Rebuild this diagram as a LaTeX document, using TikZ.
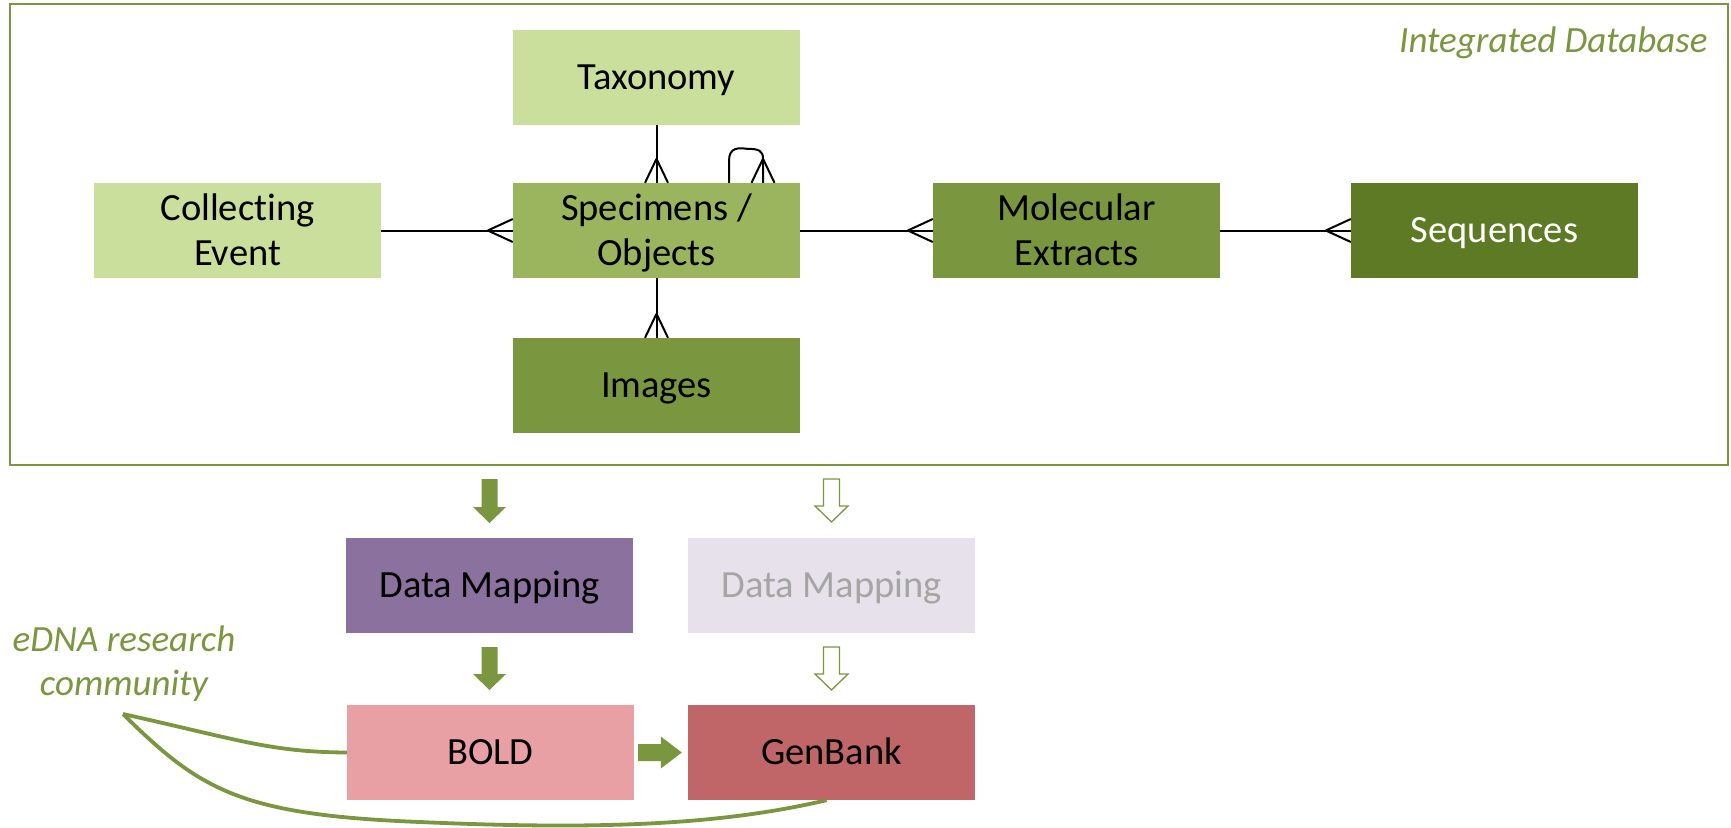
\documentclass[tikz,border=0pt]{standalone}
\usepackage{fontspec}
\setmainfont{Carlito}[Ligatures=NoCommon]
\usetikzlibrary{calc,arrows.meta}
\definecolor{gLight}{HTML}{CADF9C}
\definecolor{gMid}{HTML}{9BB55F}
\definecolor{gDark}{HTML}{7A963E}
\definecolor{gDeep}{HTML}{5E7A25}
\definecolor{pDM}{HTML}{8B719D}
\definecolor{pDMl}{HTML}{E6E1EA}
\definecolor{tGrey}{HTML}{A5A5A5}
\definecolor{rBold}{HTML}{E8A0A4}
\definecolor{rGen}{HTML}{C06668}
\definecolor{lineG}{HTML}{7A963E}
\newcommand\crowft[5]{\draw[erline] ($(#1)+(#2,#3)$) -- ($(#1)+(#4,#5)$) ($(#1)+(#2,#3)$) -- ($(#1)-(#4,#5)$);}
\newcommand\blkdown[4]{% x, ytop, ytip, style
  \path[#4] (#1-8,#2) -- (#1-8,#3-16) -- (#1-16.5,#3-16) -- (#1,#3) -- (#1+16.5,#3-16) -- (#1+8,#3-16) -- (#1+8,#2) -- cycle;}
\newcommand\bx[1]{\raisebox{-3pt}[\height][\depth]{\begin{tabular}{@{}c@{}}#1\end{tabular}}}
\begin{document}
\begin{tikzpicture}[x=1pt,y=-1pt,
  box/.style={rectangle, minimum width=287pt, minimum height=95pt, inner sep=0pt, align=center,
    font=\fontsize{38.5}{45}\selectfont, text=black},
  erline/.style={draw=black, line width=2pt},
  solidarr/.style={fill=gDark},
  openarr/.style={draw=gDark, fill=white, line width=1.3pt},
  greenline/.style={draw=lineG, line width=3.8pt}]
\useasboundingbox (0,0) rectangle (1731,827);
\draw[draw=gDark, line width=1.7pt] (10,4) rectangle (1728,465);
\node[anchor=base east, text=gDark, font=\fontsize{37}{45}\selectfont\itshape] (title) at (1711,52) {Integrated Database};

\node[box, fill=gLight] (tax) at (656.5,77) {\bx{Taxonomy}};
\node[box, fill=gLight] (coll) at (237.5,230.5) {\bx{Collecting\\Event}};
\node[box, fill=gMid] (spec) at (656.5,230.5) {\bx{Specimens /\\Objects}};
\node[box, fill=gDark] (mol) at (1076.5,230.5) {\bx{Molecular\\Extracts}};
\node[box, fill=gDeep, text=white] (seq) at (1494.5,230.5) {\bx{Sequences}};
\node[box, fill=gDark] (img) at (656.5,385.5) {\bx{Images}};

\draw[erline] (tax.south) -- (spec.north);
\crowft{spec.north}{0}{-24}{11.5}{0}
\draw[erline] (coll.east) -- (spec.west);
\crowft{spec.west}{-25}{0}{0}{11.5}
\draw[erline] (spec.east) -- (mol.west);
\crowft{mol.west}{-25}{0}{0}{11.5}
\draw[erline] (mol.east) -- (seq.west);
\crowft{seq.west}{-25}{0}{0}{11.5}
\draw[erline] (spec.south) -- (img.north);
\crowft{img.north}{0}{-24}{11.5}{0}
% self loop
\coordinate (loopA) at ($(spec.north)+(72.5,0)$);
\coordinate (loopB) at ($(spec.north)+(106.5,0)$);
\draw[erline] (loopA) -- ++(0,-22) .. controls ++(0,-14) and ++(-8,-1) .. ($(loopA)+(18,-34)$) .. controls ++(12,0) and ++(0,-8) .. ($(loopB)+(0,-24)$) -- (loopB);
\crowft{loopB}{0}{-24}{11.5}{0}

% lower part
\node[box, fill=pDM] (dm1) at (489.5,585) {\bx{Data Mapping}};
\node[box, fill=pDMl, text=tGrey] (dm2) at (831.5,585) {\bx{Data Mapping}};
\node[box, fill=rBold] (bold) at (490.5,752.5) {\bx{BOLD}};
\node[box, fill=rGen] (gen) at (831.5,752.5) {\bx{GenBank}};
\node[text=lineG, align=center, font=\fontsize{37}{44}\selectfont\itshape] (edna) at (124,664) {eDNA research\\community};

\blkdown{489.5}{479}{523}{solidarr}
\blkdown{489.5}{647}{690}{solidarr}
\blkdown{831.5}{479}{522}{openarr}
\blkdown{831.5}{647}{690}{openarr}
\coordinate (ha) at ($(bold.east)+(4,0)$);
\coordinate (hb) at ($(gen.west)+(-6,0)$);
\path[solidarr] ($(ha)+(0,-8.5)$) -- ($(hb)+(-21,-8.5)$) -- ($(hb)+(-21,-16)$) -- (hb) -- ($(hb)+(-21,16)$) -- ($(hb)+(-21,8.5)$) -- ($(ha)+(0,8.5)$) -- cycle;

\coordinate (ep) at (123,714);
\draw[greenline] (ep) .. controls (240,740) and (270,752) .. (bold.west);
\draw[greenline] (ep) .. controls (200,790) and (240,815) .. (420,822) .. controls (600,830) and (720,825) .. ($(gen.south)+(-5,0)$);
\end{tikzpicture}
\end{document}
